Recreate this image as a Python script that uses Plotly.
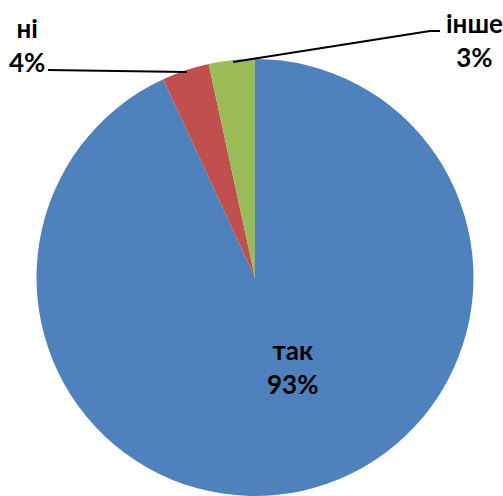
import math
import plotly.graph_objects as go

labels = ['так', 'ні', 'інше']
values = [93.1, 3.5, 3.4]
colors = ['#4F81BD', '#C0504D', '#9BBB59']

W, H = 503, 496


def px(x, y):
    """pixel position -> paper coords"""
    return x / W, 1 - y / H


fig = go.Figure()

fig.add_trace(go.Pie(
    labels=labels,
    values=values,
    sort=False,
    direction='clockwise',
    rotation=0,
    marker=dict(colors=colors, line=dict(width=0)),
    textinfo='none',
    hoverinfo='label+percent',
    domain=dict(x=[36 / W, 474 / W], y=[0, 1 - 59 / H]),
    showlegend=False,
))

font = dict(family='Lato, Carlito, sans-serif', size=26, color='black', weight='bold')

# label positions (pixel centres)
label_pos = {'так': (292, 367), 'ні': (27, 45), 'інше': (474, 40)}
total = sum(values)
for lab, val in zip(labels, values):
    x, y = px(*label_pos[lab])
    pct = math.floor(100 * val / total + 0.5)
    fig.add_annotation(
        x=x, y=y, xref='paper', yref='paper',
        text=f'{lab}<br>{pct}%',
        showarrow=False, font=font, align='center',
        xanchor='center', yanchor='middle',
    )

# leader lines
line = dict(color='black', width=2)
x0, y0 = px(48, 70)
x1, y1 = px(187, 72)
fig.add_shape(type='line', xref='paper', yref='paper', x0=x0, y0=y0, x1=x1, y1=y1, line=line)
pts = [px(233, 62), px(430, 31), px(440, 31)]
for (a, b), (c, d) in zip(pts[:-1], pts[1:]):
    fig.add_shape(type='line', xref='paper', yref='paper', x0=a, y0=b, x1=c, y1=d, line=line)

fig.update_layout(
    width=W,
    height=H,
    margin=dict(l=0, r=0, t=0, b=0),
    paper_bgcolor='white',
    plot_bgcolor='white',
)

# drop the default page margin so the figure fills the window
fig.write_html("out.html", config={'displayModeBar': False},
               post_script="document.body.style.margin='0';")
